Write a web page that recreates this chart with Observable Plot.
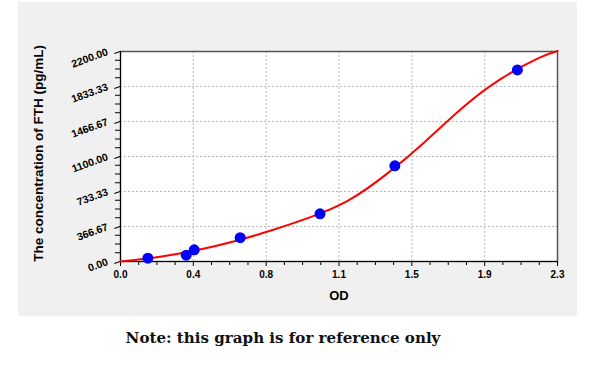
<!DOCTYPE html>
<html>
<head>
<meta charset="utf-8">
<script src="https://cdn.jsdelivr.net/npm/d3@7"></script>
<script src="https://cdn.jsdelivr.net/npm/@observablehq/plot@0.6"></script>
<style>
  html, body { margin: 0; padding: 0; background: #ffffff; width: 600px; height: 370px; overflow: hidden; }
  #panel { position: absolute; left: 18px; top: 2px; width: 559px; height: 314px; background: #f0f0f0; }
  #note { position: absolute; left: 0; top: 329px; width: 566px; text-align: center;
          font-family: "DejaVu Serif", "Liberation Serif", serif; font-weight: bold; font-size: 15.1px; color: #111; }
</style>
</head>
<body>
<div id="panel"></div>
<div id="note">Note: this graph is for reference only</div>
<script>
// Standard points (OD, concentration pg/mL)
const pointOD   = [0.144, 0.346, 0.388, 0.630, 1.050, 1.444, 2.089];
const pointConc = [35, 66, 122, 250, 500, 1002, 2007];

// Fitted curve
const curveOD   = [0, 0.2, 0.4, 0.6, 0.8, 1.0, 1.2, 1.4, 1.6, 1.8, 2.0, 2.2, 2.3];
const curveConc = [0, 48, 118, 212, 330, 465, 640, 915, 1250, 1610, 1910, 2130, 2205];

// Axis ticks
const xTickValues = [0, 0.3833, 0.7667, 1.15, 1.5333, 1.9167, 2.3];
const xTickLabels = ["0.0", "0.4", "0.8", "1.1", "1.5", "1.9", "2.3"];
const yTickValues = [0, 366.67, 733.33, 1100, 1466.67, 1833.33, 2200];
const yTickLabels = ["0.00", "366.67", "733.33", "1100.00", "1466.67", "1833.33", "2200.00"];

const xTitle = "OD";
const yTitle = "The concentration of FTH (pg/mL)";

const points = pointOD.map((x, i) => ({x, y: pointConc[i]}));
const curve = curveOD.map((x, i) => ({x, y: curveConc[i]}));

function minors(major) {
  const out = [];
  for (let i = 0; i < major.length - 1; i++) {
    const a = major[i], b = major[i + 1];
    for (let k = 1; k < 4; k++) out.push(a + (b - a) * k / 4);
  }
  return out;
}
const xMinor = minors(xTickValues);
const yMinor = minors(yTickValues);

const xLab = new Map(xTickValues.map((v, i) => [v, xTickLabels[i]]));
const yLab = new Map(yTickValues.map((v, i) => [v, yTickLabels[i]]));

const font = "'Liberation Sans', Arial, sans-serif";

const chart = Plot.plot({
  width: 559,
  height: 314,
  marginLeft: 102,
  marginTop: 49,
  marginRight: 20,
  marginBottom: 55,
  style: { background: "transparent", fontFamily: font, color: "#000" },
  x: { domain: [0, 2.3] },
  y: { domain: [0, 2200] },
  marks: [
    Plot.frame({ fill: "white", stroke: "none" }),
    Plot.gridX(xTickValues, { stroke: "#b8b8b8", strokeOpacity: 1, strokeDasharray: "2,2" }),
    Plot.gridY(yTickValues, { stroke: "#b8b8b8", strokeOpacity: 1, strokeDasharray: "2,2" }),
    Plot.frame({ stroke: "#555", strokeWidth: 1.5 }),
    Plot.ruleX([0], { stroke: "#000" }),
    Plot.ruleY([0], { stroke: "#000" }),
    Plot.axisX(xMinor, { tickSize: 4, tickFormat: () => "", label: null, stroke: "#000" }),
    Plot.axisY(yMinor, { tickSize: 5, tickFormat: () => "", label: null, stroke: "#000" }),
    Plot.axisX(xTickValues, { tickSize: 5, tickPadding: 4, tickFormat: d => xLab.get(d), label: null,
      fontSize: 10, fontWeight: "bold", stroke: "#000" }),
    Plot.axisY(yTickValues, { tickSize: 6, tickPadding: 7, tickFormat: d => yLab.get(d), label: null,
      fontSize: 10.5, fontWeight: "bold", rotate: -20, textAnchor: "end", stroke: "#000" }),
    Plot.text([xTitle], { frameAnchor: "bottom", dy: 38, fontSize: 13, fontWeight: "bold" }),
    Plot.text([yTitle], { frameAnchor: "left", dx: -82, dy: -3, rotate: -90, textAnchor: "middle",
      fontSize: 13.5, fontWeight: "bold" }),
    Plot.line(curve, { x: "x", y: "y", stroke: "#ff0000", strokeWidth: 2, curve: "natural" }),
    Plot.dot(points, { x: "x", y: "y", r: 5.5, fill: "#0000ff", stroke: "none" })
  ]
});
document.getElementById("panel").appendChild(chart);
</script>
</body>
</html>
